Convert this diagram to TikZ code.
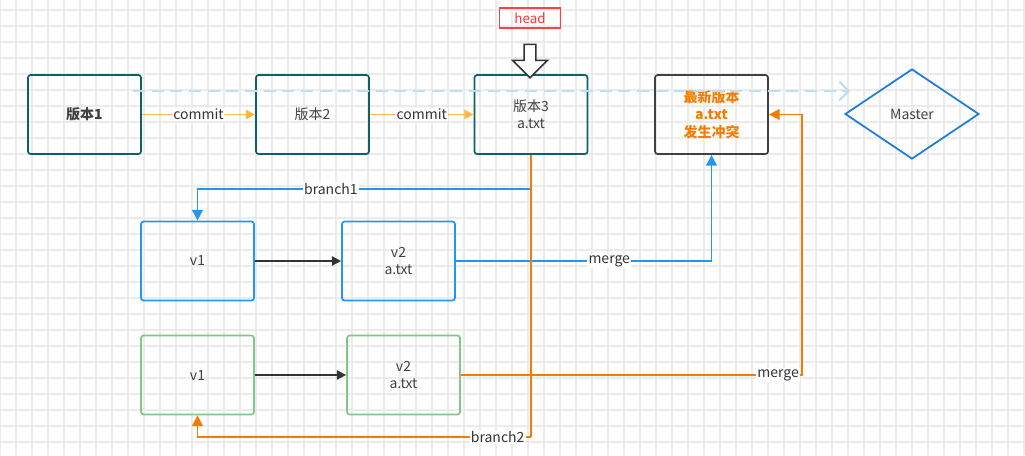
\documentclass[tikz,border=0pt]{standalone}
\usepackage{fontspec}
\setmainfont{Noto Sans CJK SC}
\usetikzlibrary{arrows.meta,shapes.geometric,shapes.arrows}
\definecolor{teal}{HTML}{0E6266}
\definecolor{lineorange}{HTML}{FFB74D}
\definecolor{deeporange}{HTML}{F57C00}
\definecolor{blueline}{HTML}{2196F3}
\definecolor{masterblue}{HTML}{1E7BD8}
\definecolor{greenbox}{HTML}{82C785}
\definecolor{dashblue}{HTML}{BBDEFB}
\tikzset{
  box/.style={draw, rounded corners=2pt, line width=1.3pt, minimum width=84.75pt, minimum height=59.25pt, align=center, font=\fontsize{10.5}{13}\selectfont, text=black!75},
  lbl/.style={fill=white, inner sep=1pt, font=\fontsize{10.5}{12}\selectfont, text=black!80},
  gridline/.style={black!8, line width=0.9pt},
}
\begin{document}
\begin{tikzpicture}[x=0.75pt,y=-0.75pt]
  \useasboundingbox (0,0) rectangle (1025,455);
  \foreach \gx in {0,16,...,1024} \draw[gridline] (\gx,0) -- (\gx,455);
  \foreach \gy in {10,26,...,454} \draw[gridline] (0,\gy) -- (1025,\gy);

  % main line
  \node[box, draw=teal, font=\bfseries\fontsize{10.5}{13}\selectfont] (v1) at (84.5,114.5) {版本1};
  \node[box, draw=teal] (v2) at (312.5,114.5) {版本2};
  \node[box, draw=teal] (v3) at (531,114.5) {版本3\\a.txt};
  \node[box, draw=black!75, text=deeporange, font=\bfseries\fontsize{10.5}{13}\selectfont] (new) at (711.5,114.5) {最新版本\\a.txt\\发生冲突};
  \node[diamond, draw=masterblue, line width=1.3pt, minimum width=100.5pt, minimum height=67.5pt, inner sep=0pt, aspect=1.5, font=\fontsize{10.5}{12}\selectfont, text=black!75] (master) at (912,114) {Master};
  \node[draw=red!75, line width=1.2pt, text=red!80, minimum width=46pt, minimum height=15pt, inner sep=1pt, font=\fontsize{10}{11}\selectfont] (head) at (530,18) {head};
  \node[single arrow, draw=black!80, line width=1.2pt, fill=white, shape border rotate=270, minimum height=25pt, minimum width=26pt, single arrow head extend=5pt, inner sep=2pt] (ptr) at (530,58) {};

  \coordinate (d0) at (133,91);
  \coordinate (d1) at (850,91);
  \draw[dashblue, dashed, dash pattern=on 9pt off 5pt, line width=1.5pt, -{Straight Barb[length=7pt,width=14pt]}] (d0) -- (d1);

  \draw[lineorange, line width=1.3pt, -{Triangle[length=7pt,width=7pt]}] (v1) -- node[lbl]{commit} (v2);
  \draw[lineorange, line width=1.3pt, -{Triangle[length=7pt,width=7pt]}] (v2) -- node[lbl]{commit} (v3);

  % branch1
  \node[box, draw=blueline] (b1) at (197.5,261) {v1};
  \node[box, draw=blueline] (b2) at (398.5,261) {v2\\a.txt};
  \draw[black!80, line width=1.2pt, -{Triangle[length=7pt,width=7pt]}] (b1.east) -- (b2.west);
  \coordinate (br1) at (v3.south |- 0,189);
  \draw[blueline, line width=1.3pt, -{Triangle[length=8pt,width=8pt]}] (v3.south) -- (br1) -| node[lbl, pos=0.3]{branch1} (b1.north);
  \draw[blueline, line width=1.3pt, -{Triangle[length=8pt,width=8pt]}] (b2.east) -| node[lbl, pos=0.3]{merge} (new.south);

  % branch2
  \node[box, draw=greenbox] (g1) at (197.5,375) {v1};
  \node[box, draw=greenbox] (g2) at (403.5,375) {v2\\a.txt};
  \draw[black!80, line width=1.2pt, -{Triangle[length=7pt,width=7pt]}] (g1.east) -- (g2.west);
  \coordinate (br2) at (v3.south |- 0,437);
  \draw[deeporange, line width=1.5pt] (v3.south) -- (br2);
  \draw[deeporange, line width=1.3pt, -{Triangle[length=8pt,width=8pt]}] (br2) -| node[lbl, pos=0.05]{branch2} (g1.south);
  \coordinate (mg2) at (802,375);
  \draw[deeporange, line width=1.3pt, -{Triangle[length=8pt,width=8pt]}] (g2.east) -- (mg2) node[lbl, pos=0.93]{merge} |- (new.east);
\end{tikzpicture}
\end{document}
